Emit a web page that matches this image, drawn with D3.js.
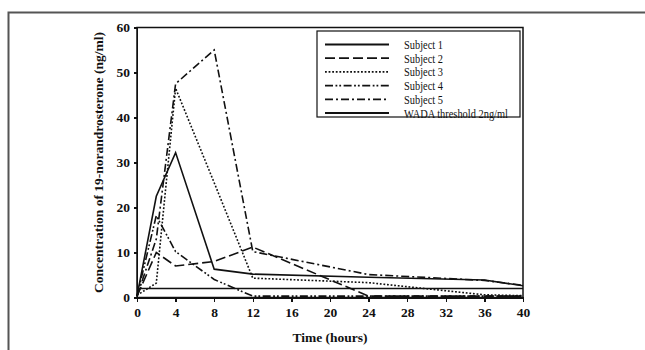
<!DOCTYPE html>
<html>
<head>
<meta charset="utf-8">
<script src="https://cdnjs.cloudflare.com/ajax/libs/d3/7.8.5/d3.min.js"></script>
<style>
  body { margin: 0; background: #fff; }
  svg { display: block; }
  .axis path, .axis line { stroke: #111; stroke-width: 1.5; shape-rendering: crispEdges; }
  .axis text { font-family: "Liberation Serif", "Times New Roman", serif; font-weight: bold; font-size: 13.5px; fill: #111; }
</style>
</head>
<body>
<div id="chart"></div>
<script>
// sampling times (hours)
const hours = [0, 2, 4, 8, 12, 24, 36, 40];

// concentrations (ng/ml)
const subject1 = [0.3, 22.5, 32.2, 6.3, 5.2, 4.5, 3.9, 2.6];
const subject2 = [0.3, 10, 7, 8, 11.2, 0.3, 0.3, 0.3];
const subject3 = [0.5, 3.2, 46.5, 25.5, 4.3, 3.3, 0.6, 0.4];
const subject4 = [0.3, 18.2, 10.2, 4, 0.3, 0.3, 0.3, 0.3];
const subject5 = [0.3, 13, 47.5, 55, 10.2, 5.1, 3.8, 2.7];
const wada = [2, 2, 2, 2, 2, 2, 2, 2];

const seriesNames = ["Subject 1", "Subject 2", "Subject 3", "Subject 4", "Subject 5", "WADA threshold 2ng/ml"];
const seriesValues = [subject1, subject2, subject3, subject4, subject5, wada];
const dashes = ["none", "10,4", "1.8,1.8", "8,2.5,1.8,2,1.8,2.5", "8,3,2,3", "none"];

const xTicks = [0, 4, 8, 12, 16, 20, 24, 28, 32, 36, 40];
const yTicks = [0, 10, 20, 30, 40, 50, 60];

const serif = "'Liberation Serif', 'Times New Roman', serif";

const W = 645, H = 350;
const margin = {top: 27.5, right: 122, bottom: 52.5, left: 137};
const w = W - margin.left - margin.right;
const h = H - margin.top - margin.bottom;

const svg = d3.select("#chart").append("svg")
  .attr("width", W)
  .attr("height", H);

// outer frame of the scanned figure
svg.append("path")
  .attr("d", "M8.5," + H + "V12.5H" + W)
  .style("fill", "none")
  .style("stroke", "#555")
  .style("stroke-width", 2);

const g = svg.append("g")
  .attr("transform", "translate(" + margin.left + "," + margin.top + ")");

const x = d3.scaleLinear().domain([0, 40]).range([0, w]);
const y = d3.scaleLinear().domain([0, 60]).range([h, 0]);

// plot box
g.append("rect")
  .attr("x", 0).attr("y", 0)
  .attr("width", w).attr("height", h)
  .style("fill", "none")
  .style("stroke", "#111")
  .style("stroke-width", 1.5);

g.append("g")
  .attr("class", "axis")
  .attr("transform", "translate(0," + h + ")")
  .call(d3.axisBottom(x).tickValues(xTicks).tickSize(4).tickSizeOuter(0).tickPadding(6));

g.append("g")
  .attr("class", "axis")
  .call(d3.axisLeft(y).tickValues(yTicks).tickSize(3).tickSizeOuter(0).tickPadding(4));

const line = d3.line()
  .x((d, i) => x(hours[i]))
  .y(d => y(d));

seriesValues.forEach(function(vals, k) {
  g.append("path")
    .datum(vals)
    .attr("d", line)
    .style("fill", "none")
    .style("stroke", "#111")
    .style("stroke-width", 1.6)
    .style("stroke-dasharray", dashes[k]);
});

// axis titles
svg.append("text")
  .attr("x", margin.left + w / 2)
  .attr("y", 342)
  .attr("text-anchor", "middle")
  .style("font-family", serif)
  .style("font-weight", "bold")
  .style("font-size", "13.5px")
  .style("fill", "#111")
  .text("Time (hours)");

svg.append("text")
  .attr("transform", "translate(103," + (margin.top + h / 2) + ") rotate(-90)")
  .attr("text-anchor", "middle")
  .style("font-family", serif)
  .style("font-weight", "bold")
  .style("font-size", "13.5px")
  .style("fill", "#111")
  .text("Concentration of 19-norandrosterone (ng/ml)");

// legend
const leg = svg.append("g").attr("transform", "translate(317,31)");
leg.append("rect")
  .attr("width", 203).attr("height", 86)
  .style("fill", "#fff")
  .style("stroke", "#111")
  .style("stroke-width", 1.2);

seriesNames.forEach(function(name, k) {
  const ry = 13.5 + k * 13.7;
  leg.append("line")
    .attr("x1", 8).attr("x2", 72)
    .attr("y1", ry).attr("y2", ry)
    .style("stroke", "#111")
    .style("stroke-width", 1.8)
    .style("stroke-dasharray", dashes[k]);
  leg.append("text")
    .attr("transform", "translate(87," + (ry + 4.5) + ") scale(0.8,1)")
    .style("font-family", serif)
    .style("font-size", "13px")
    .style("fill", "#111")
    .text(name);
});
</script>
</body>
</html>
